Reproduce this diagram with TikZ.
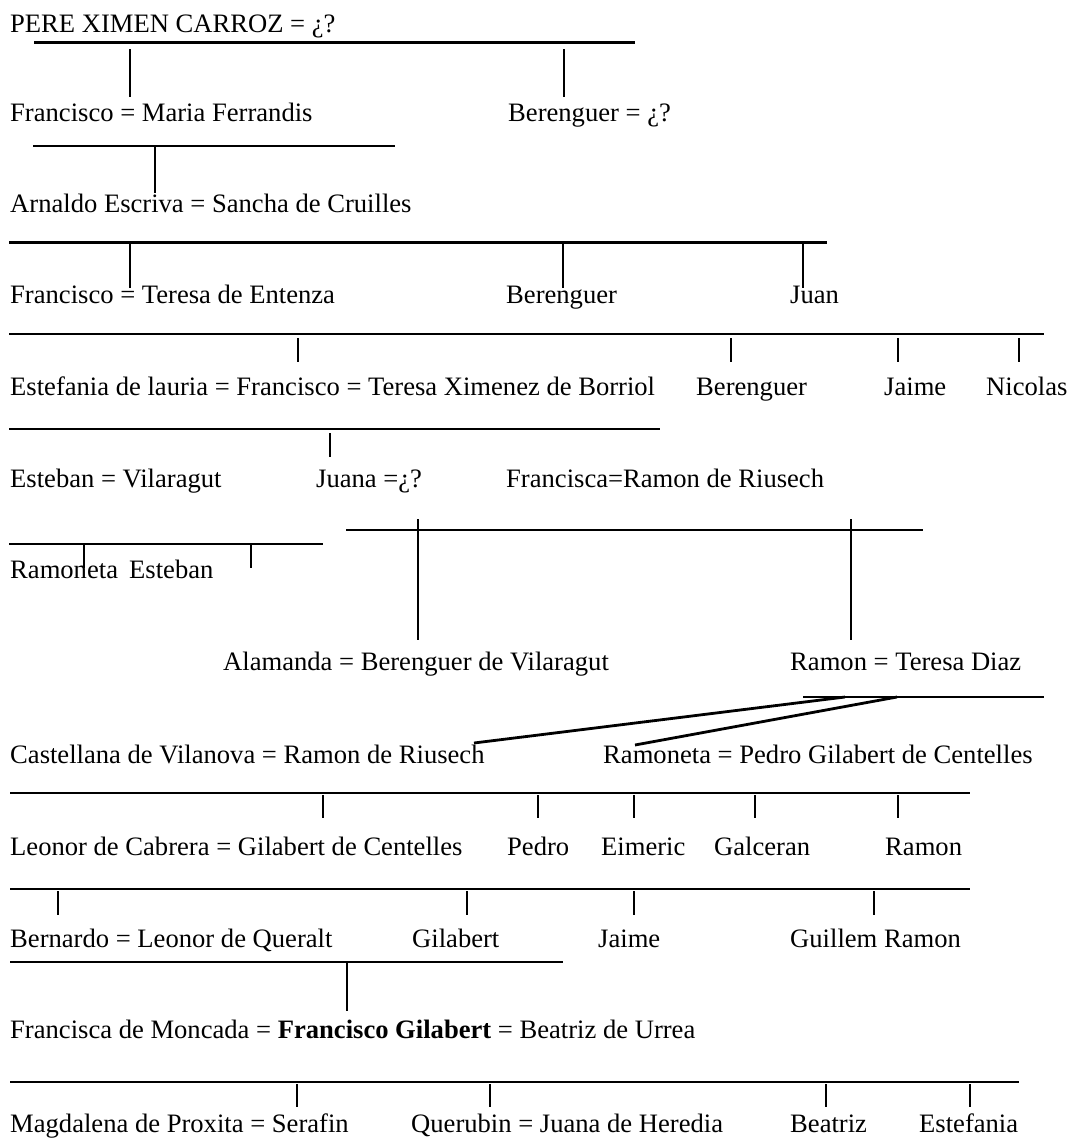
\documentclass[tikz,border=0pt]{standalone}
\usepackage{fontspec}
\setmainfont{Liberation Serif}
\begin{document}
\begin{tikzpicture}[x=1pt,y=-1pt,
  every node/.style={anchor=base west,inner sep=0pt,font=\fontsize{26.6}{32}\selectfont},
  bar/.style={line width=2.8pt},
  tick/.style={line width=2pt}]
\useasboundingbox (0,0) rectangle (1077,1138);
% names
\node (pere) at (10,32) {PERE XIMEN CARROZ = ¿?};
\node (fran1) at (10,121) {Francisco = Maria Ferrandis};
\node (ber1) at (508,121) {Berenguer = ¿?};
\node (arn) at (10,212) {Arnaldo Escriva = Sancha de Cruilles};
\node (fran2) at (10,303) {Francisco = Teresa de Entenza};
\node (ber2) at (506,303) {Berenguer};
\node (juan) at (790,303) {Juan};
\node (fran3) at (10,395) {Estefania de lauria = Francisco = Teresa Ximenez de Borriol};
\node (ber3) at (696,395) {Berenguer};
\node (jaime1) at (884,395) {Jaime};
\node (nico) at (986,395) {Nicolas};
\node (este) at (10,487) {Esteban = Vilaragut};
\node (juana) at (316,487) {Juana =¿?};
\node (franca) at (506,487) {Francisca=Ramon de Riusech};
\node (ramo1) at (10,578) {Ramoneta};
\node (este2) at (129,578) {Esteban};
\node (alam) at (223,670) {Alamanda = Berenguer de Vilaragut};
\node (ramon1) at (790,670) {Ramon = Teresa Diaz};
\node (cast) at (10,763) {Castellana de Vilanova = Ramon de Riusech};
\node (ramo2) at (603,763) {Ramoneta = Pedro Gilabert de Centelles};
\node (leon) at (10,855) {Leonor de Cabrera = Gilabert de Centelles};
\node (pedro) at (507,855) {Pedro};
\node (eim) at (601,855) {Eimeric};
\node (galc) at (714,855) {Galceran};
\node (ramon2) at (885,855) {Ramon};
\node (bern) at (10,947) {Bernardo = Leonor de Queralt};
\node (gil) at (412,947) {Gilabert};
\node (jaime2) at (598,947) {Jaime};
\node (guil) at (790,947) {Guillem Ramon};
\node (fg) at (10,1038) {Francisca de Moncada = \textbf{Francisco Gilabert} = Beatriz de Urrea};
\node (mag) at (10,1132) {Magdalena de Proxita = Serafin};
\node (quer) at (411,1132) {Querubin = Juana de Heredia};
\node (beat) at (790,1132) {Beatriz};
\node (estf) at (919,1132) {Estefania};
% bars
\draw[bar] (34,42.3) -- (635,42.3);
\draw[bar] (33,146) -- (395,146);
\draw[bar] (9,242.3) -- (827,242.3);
\draw[bar] (9,334) -- (1044,334);
\draw[bar] (9,429) -- (660,429);
\draw[bar] (346,530) -- (923,530);
\draw[bar] (9,544) -- (323,544);
\draw[bar] (803,697) -- (1044,697);
\draw[bar] (10,793) -- (970,793);
\draw[bar] (10,889) -- (970,889);
\draw[bar] (10,962) -- (563,962);
\draw[bar] (10,1082) -- (1019,1082);
% ticks
\foreach \x in {130,564} \draw[tick] (\x,49) -- (\x,97);
\draw[tick] (155,146) -- (155,193);
\foreach \x in {130,563,803} \draw[tick] (\x,242) -- (\x,288);
\foreach \x in {298,731,898,1019} \draw[tick] (\x,338) -- (\x,362);
\draw[tick] (330,433) -- (330,457);
\foreach \x in {418,851} \draw[tick] (\x,519) -- (\x,640);
\foreach \x in {83.5,251} \draw[tick] (\x,544) -- (\x,568);
\draw[bar] (845,697) -- (474,743);
\draw[bar] (897,697) -- (635,745);
\foreach \x in {323,538,634,755,898} \draw[tick] (\x,795) -- (\x,818);
\foreach \x in {58,467,634,874} \draw[tick] (\x,891) -- (\x,915);
\draw[tick] (347,962) -- (347,1011);
\foreach \x in {297,490,826,970} \draw[tick] (\x,1084) -- (\x,1107);
\end{tikzpicture}
\end{document}
